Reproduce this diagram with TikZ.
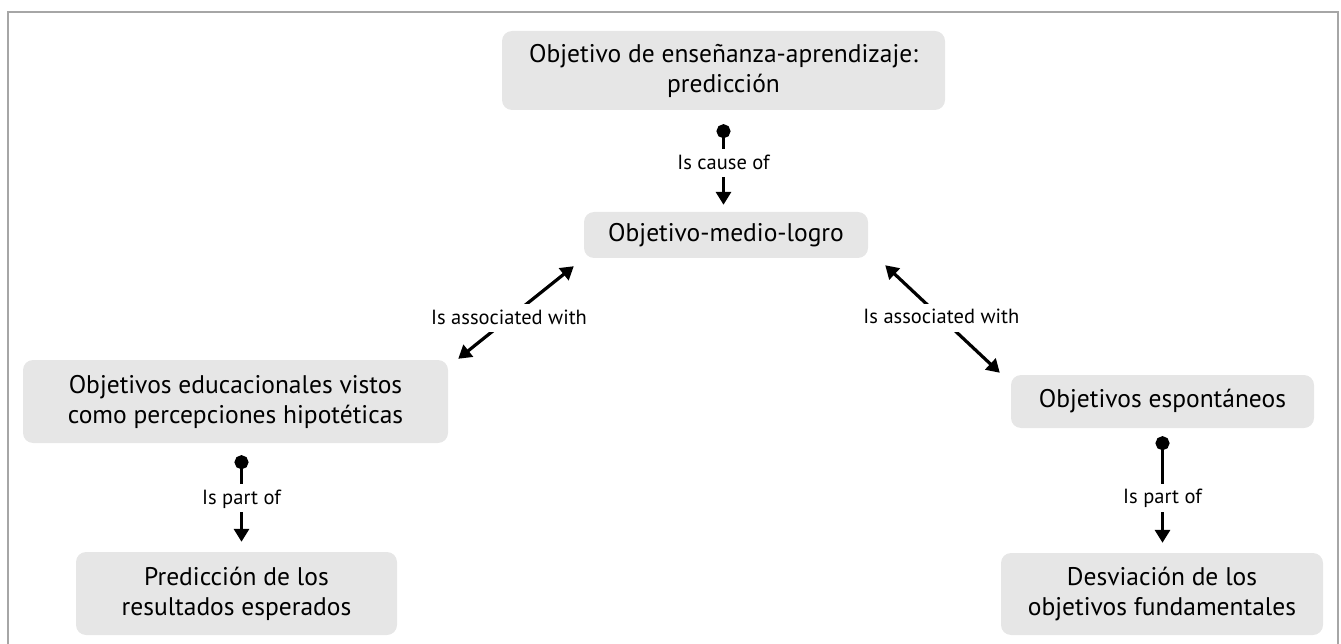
\documentclass[tikz,border=0pt]{standalone}
\usepackage{fontspec}
\setmainfont{PT Sans}
\usetikzlibrary{arrows.meta,calc}
\definecolor{boxfill}{HTML}{E6E6E6}
\definecolor{framegray}{HTML}{A6A6A6}
\tikzset{
  concept/.style={fill=boxfill, rounded corners=10pt, align=center, font=\fontsize{25.5}{30}\selectfont, inner sep=0pt},
  linklabel/.style={fill=white, font=\fontsize{20.5}{22}\selectfont, text height=15pt, text depth=3pt, inner ysep=5pt, inner xsep=3pt},
  duallink/.style={line width=3.2pt, {Triangle[length=13pt,width=15pt]}-{Triangle[length=13pt,width=15pt]}},
  partlink/.style={line width=3.2pt, {Circle[length=14pt]}-{Triangle[length=13pt,width=15pt]}},
  framestyle/.style={draw=framegray, line width=2pt},
}
\begin{document}
\begin{tikzpicture}[x=1pt,y=-1pt]
\useasboundingbox (0,0) rectangle (1341,644);
\draw[framestyle] (8,644) -- (8,12) -- (1338,12) -- (1338,644);

\node[concept, minimum width=443pt, minimum height=79pt] (top) at (723.5,70.5) {Objetivo de enseñanza-aprendizaje:\\predicción};
\node[concept, minimum width=284pt, minimum height=46pt] (mid) at (726,235) {Objetivo-medio-logro};
\node[concept, minimum width=425pt, minimum height=83pt] (left) at (235.5,401.5) {Objetivos educacionales vistos\\como percepciones hipotéticas};
\node[concept, minimum width=303pt, minimum height=53pt] (right) at (1162.5,401.5) {Objetivos espontáneos};
\node[concept, minimum width=321pt, minimum height=83pt] (bl) at (236.5,593.5) {Predicción de los\\resultados esperados};
\node[concept, minimum width=322pt, minimum height=82pt] (br) at (1162,594) {Desviación de los\\objetivos fundamentales};

\draw[partlink, shorten <=14pt, shorten >=7pt] (top.south) -- node[linklabel, pos=0.52]{Is cause of} (top.south |- mid.north);

\draw[duallink] ($(left.north east)+(10,-1)$) -- node[linklabel, pos=0.44]{Is associated with} ($(mid.south west)+(-10,8)$);
\draw[duallink] ($(mid.south east)+(17,7)$) -- node[linklabel, pos=0.49]{Is associated with} ($(right.north west)+(-11,-2)$);

\draw[partlink, shorten <=12pt, shorten >=10pt] ([xshift=6pt]left.south) -- node[linklabel, pos=0.505]{Is part of} ([xshift=6pt]left.south |- bl.north);
\draw[partlink, shorten <=8pt, shorten >=10pt] (right.south) -- node[linklabel, pos=0.56]{Is part of} (right.south |- br.north);
\end{tikzpicture}
\end{document}
